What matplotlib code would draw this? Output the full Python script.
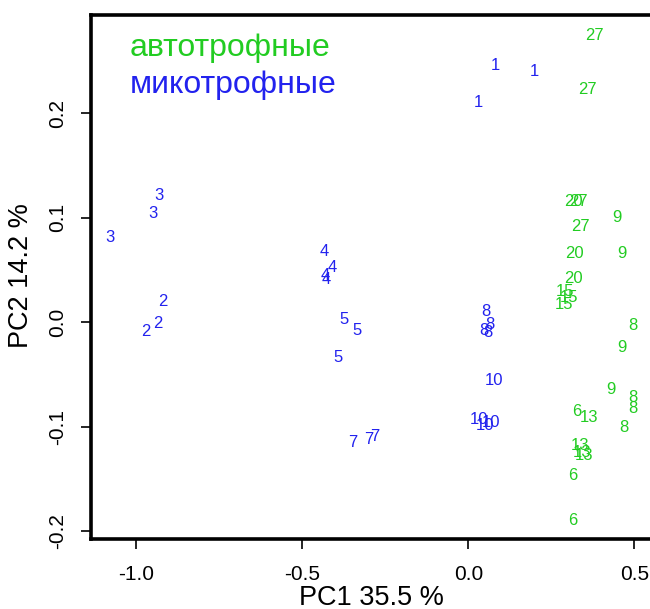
import matplotlib
matplotlib.use("Agg")
import matplotlib.pyplot as plt

plt.rcParams['font.family'] = ['Liberation Sans', 'DejaVu Sans']

# mixotrophic samples (blue)
mixo_lab = ["1", "1", "1", "3", "3", "3", "2", "2", "2", "4", "4", "4", "4",
            "5", "5", "5", "7", "7", "7", "8", "8", "8", "8", "10", "10", "10", "10"]
mixo_x = [0.081, 0.200, 0.031, -0.932, -0.949, -1.080, -0.920, -0.937, -0.972,
          -0.435, -0.410, -0.431, -0.427, -0.376, -0.337, -0.392, -0.347, -0.300, -0.281,
          0.054, 0.065, 0.047, 0.060, 0.077, 0.031, 0.050, 0.069]
mixo_y = [0.246, 0.240, 0.210, 0.1215, 0.104, 0.0807, 0.020, -0.001, -0.0086,
          0.0676, 0.052, 0.0446, 0.041, 0.003, -0.008, -0.0335, -0.115, -0.1126, -0.1097,
          0.010, -0.002, -0.008, -0.010, -0.0558, -0.093, -0.0985, -0.096]

# autotrophic samples (green)
auto_lab = ["27", "27", "20", "27", "27", "20", "20", "15", "15", "15", "9", "9",
            "8", "9", "9", "8", "8", "8", "6", "13", "13", "13", "13", "6", "6"]
auto_x = [0.381, 0.360, 0.317, 0.333, 0.337, 0.318, 0.315, 0.290, 0.302, 0.287, 0.449, 0.462,
          0.496, 0.462, 0.428, 0.496, 0.496, 0.468, 0.325, 0.362, 0.335, 0.343, 0.347, 0.315, 0.315]
auto_y = [0.274, 0.223, 0.116, 0.116, 0.0918, 0.0657, 0.042, 0.029, 0.0234, 0.0167, 0.100, 0.0657,
          -0.003, -0.024, -0.0643, -0.0718, -0.083, -0.101, -0.0855, -0.0915, -0.118, -0.1245,
          -0.128, -0.147, -0.190]

xticks = [-1.0, -0.5, 0.0, 0.5]
xtick_labels = ["-1.0", "-0.5", "0.0", "0.5"]
yticks = [-0.2, -0.1, 0.0, 0.1, 0.2]
ytick_labels = ["-0.2", "-0.1", "0.0", "0.1", "0.2"]

green = "#22CC22"
blue = "#2222EE"

fig = plt.figure(figsize=(6.5, 6.09), dpi=100)
ax = fig.add_axes([0.140, 0.115, 0.887, 0.8596])

for x, y, t in zip(mixo_x, mixo_y, mixo_lab):
    ax.text(x, y, t, color=blue, fontsize=12, ha="center", va="center")
for x, y, t in zip(auto_x, auto_y, auto_lab):
    ax.text(x, y, t, color=green, fontsize=12, ha="center", va="center")

ax.set_xlim(-1.137, 0.6)
ax.set_ylim(-0.2074, 0.2936)

ax.set_xticks(xticks)
ax.set_xticklabels(xtick_labels)
ax.set_yticks(yticks)
ax.set_yticklabels(ytick_labels, rotation=90, va="center")
ax.tick_params(labelsize=15, length=7, width=1.2, pad=12)
ax.tick_params(axis="y", pad=10)
for s in ax.spines.values():
    s.set_linewidth(2.6)

fig.text(371 / 650, 1 - 598 / 609, "PC1 35.5 %", fontsize=19.5, ha="center", va="center")
fig.text(21 / 650, 1 - 276 / 609, "PC2 14.2 %", fontsize=19.5, ha="center", va="center", rotation=90)

fig.text(130 / 650, 1 - 56 / 609, "автотрофные", color=green, fontsize=23, ha="left", va="baseline")
fig.text(130 / 650, 1 - 93 / 609, "микотрофные", color=blue, fontsize=23, ha="left", va="baseline")

fig.savefig("out.png", dpi=100)
